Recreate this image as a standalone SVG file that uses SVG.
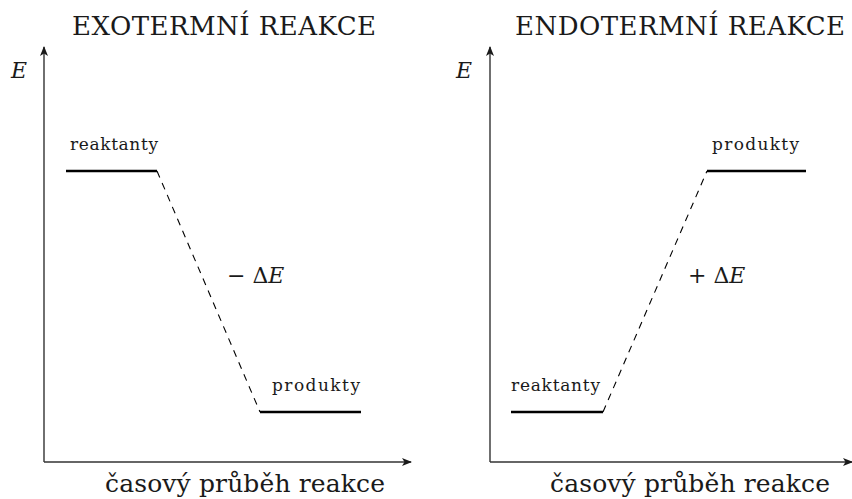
<svg xmlns="http://www.w3.org/2000/svg" width="852" height="499" viewBox="0 0 852 499">
<style>
text{font-family:"DejaVu Serif","Liberation Serif",serif;fill:#1a1a1a}
.title{font-size:26px}
.lab{font-size:17px}
.axl{font-size:22px;font-style:italic}
.de{font-size:22px}
.xl{font-size:25px}
.axis{stroke:#333;stroke-width:1.4;fill:none}
.level{stroke:#000;stroke-width:2.6;fill:none}
.dash{stroke:#000;stroke-width:1.1;fill:none;stroke-dasharray:7 6}
</style>
<defs>
<marker id="arr" viewBox="0 0 10 8" refX="9" refY="4" markerWidth="10" markerHeight="8" markerUnits="userSpaceOnUse" orient="auto">
<path d="M0,0 L10,4 L0,8 L2.5,4 Z" fill="#1a1a1a"/>
</marker>
</defs>
<g id="exo">
<text class="title" x="72" y="35" textLength="304">EXOTERMNÍ REAKCE</text>
<text class="axl" x="11" y="78">E</text>
<text class="lab" x="70" y="150" textLength="88">reaktanty</text>
<text class="lab" x="272" y="391" textLength="88">produkty</text>
<text class="de" x="227" y="283">− Δ<tspan font-style="italic">E</tspan></text>
<text class="xl" x="105" y="492" textLength="280">časový průběh reakce</text>
</g>
<g id="endo">
<text class="title" x="515" y="35" textLength="330">ENDOTERMNÍ REAKCE</text>
<text class="axl" x="456" y="78">E</text>
<text class="lab" x="712" y="150" textLength="87">produkty</text>
<text class="lab" x="511" y="391" textLength="89">reaktanty</text>
<text class="de" x="688" y="283">+ Δ<tspan font-style="italic">E</tspan></text>
<text class="xl" x="550" y="492" textLength="280">časový průběh reakce</text>
</g>
<g id="connectors">
<path class="axis" d="M44,462 V47" marker-end="url(#arr)"/>
<path class="axis" d="M44,462 H411" marker-end="url(#arr)"/>
<path class="level" d="M66,171 H157"/>
<path class="level" d="M260,412 H361"/>
<path class="dash" d="M157,171 L260,412"/>
<path class="axis" d="M490,462 V47" marker-end="url(#arr)"/>
<path class="axis" d="M490,462 H852" marker-end="url(#arr)"/>
<path class="level" d="M511,412 H603"/>
<path class="level" d="M707,171 H806"/>
<path class="dash" d="M603,412 L707,171"/>
</g>
</svg>
